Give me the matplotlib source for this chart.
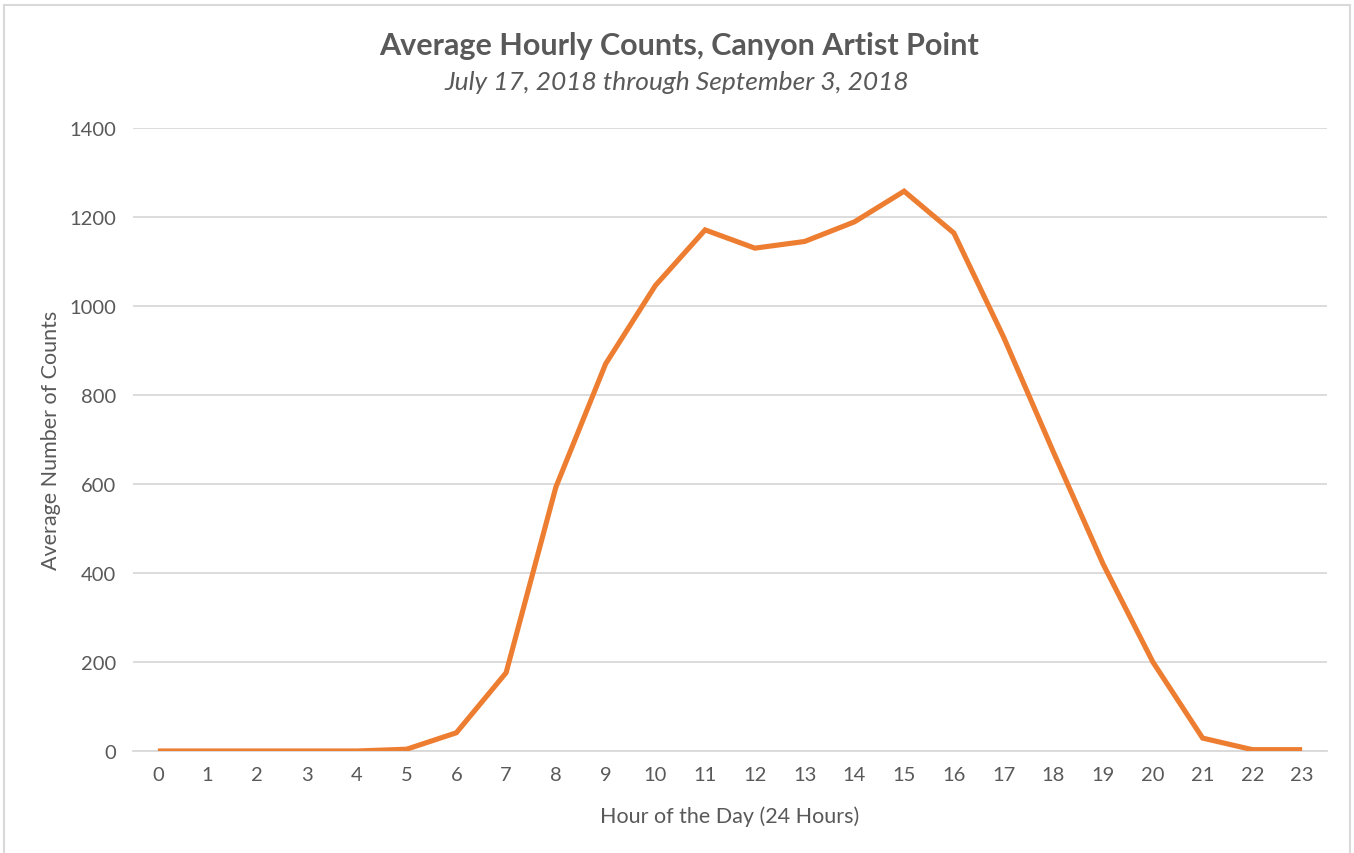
import matplotlib
matplotlib.use("Agg")
import matplotlib.pyplot as plt
from matplotlib.patches import Rectangle

hours = list(range(24))
hour_labels = [str(h) for h in hours]
avg_counts = [0, 0, 0, 0, 0, 4, 41, 176, 593, 870, 1046, 1171, 1130, 1145,
              1189, 1258, 1164, 930, 672, 420, 200, 29, 3, 3]
y_ticks = [0, 200, 400, 600, 800, 1000, 1200, 1400]

title = "Average Hourly Counts, Canyon Artist Point"
subtitle = "July 17, 2018 through September 3, 2018"
x_label = "Hour of the Day (24 Hours)"
y_label = "Average Number of Counts"

plt.rcParams['font.family'] = ['Lato', 'DejaVu Sans']
TXT = '#595959'

W, H = 1354, 854
fig = plt.figure(figsize=(W / 100, H / 100), dpi=100)
ax = fig.add_axes([133 / W, 1 - 752 / H, (1327 - 133) / W, (752 - 129) / H])

ax.plot(hours, avg_counts, color='#ED7D31', linewidth=3.7,
        solid_joinstyle='miter', solid_capstyle='butt', zorder=3)

ax.set_xlim(-0.5, 23.5)
ax.set_ylim(0, 1400)
ax.set_xticks(hours)
ax.set_xticklabels(hour_labels)
ax.set_yticks(y_ticks)
ax.set_yticklabels([str(v) for v in y_ticks])
ax.grid(axis='y', color='#D9D9D9', linewidth=1.3, zorder=0)
ax.set_axisbelow(True)
for s in ['top', 'right', 'left']:
    ax.spines[s].set_visible(False)
ax.spines['bottom'].set_color('#D9D9D9')
ax.spines['bottom'].set_linewidth(1.3)
ax.tick_params(axis='both', length=0, labelsize=14.5, colors=TXT)
ax.tick_params(axis='x', pad=11)
ax.tick_params(axis='y', pad=12)

ax.set_xlabel(x_label, fontsize=15.5, color=TXT, labelpad=16)
ax.set_ylabel(y_label, fontsize=15.5, color=TXT, labelpad=6)

fig.text(679 / W, 1 - 46 / H, title,
         ha='center', va='center', fontsize=22, fontweight='bold', color=TXT)
fig.text(677 / W, 1 - 82 / H, subtitle, ha='center', va='center',
         fontsize=19, fontstyle='italic', color=TXT)

fig.patches.append(Rectangle((4 / W, -0.05), (1350 - 4) / W, 1.05 - 6 / H,
                             transform=fig.transFigure, fill=False,
                             edgecolor='#D9D9D9', linewidth=1.5))

fig.savefig('out.png', dpi=100, facecolor='white')
